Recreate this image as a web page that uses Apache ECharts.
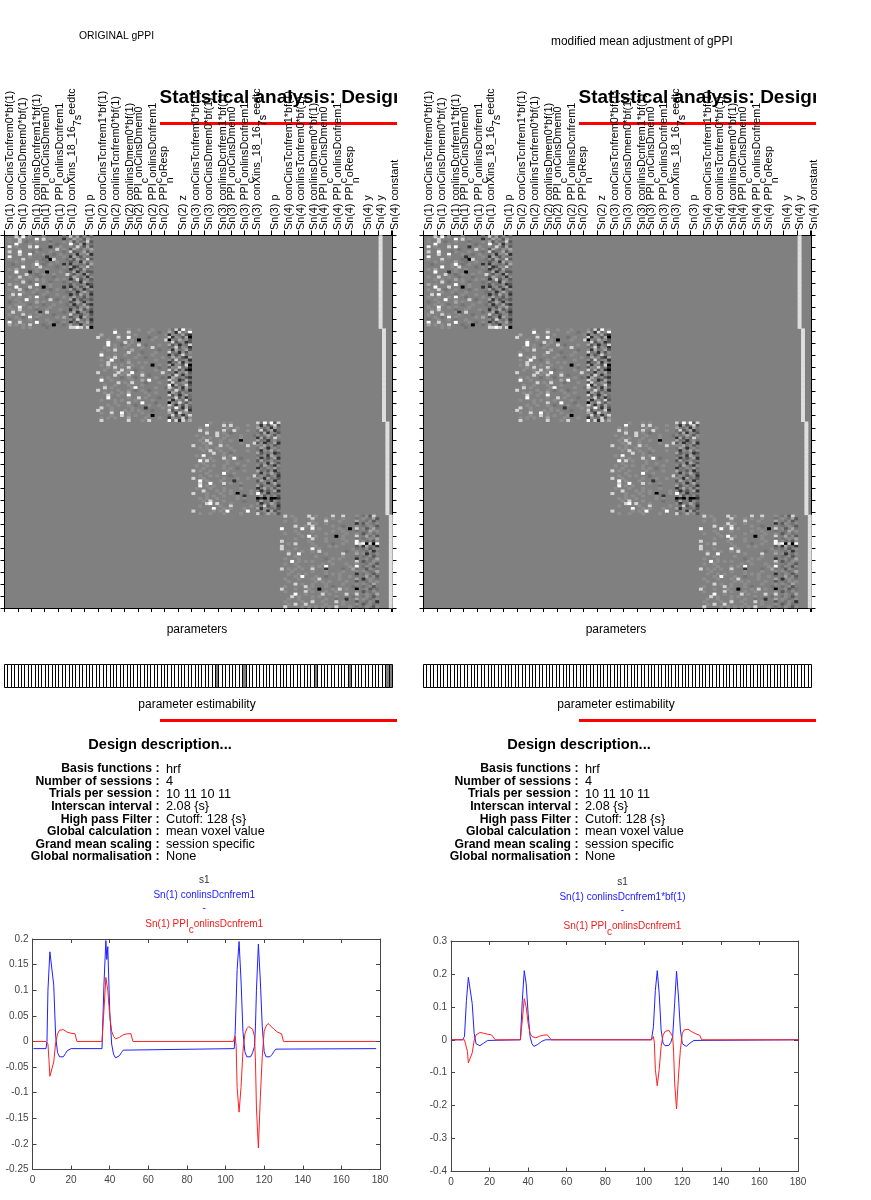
<!DOCTYPE html>
<html><head><meta charset="utf-8">
<style>html,body{margin:0;padding:0;background:#fff}#c{width:871px;height:1200px}</style>
<script src="https://cdn.jsdelivr.net/npm/echarts@6/dist/echarts.min.js"></script>
</head><body><div id="c"></div>
<script>
// Column labels above the design matrix ( _{x} marks a subscript ) and their x position in the matrix (px from matrix left edge)
const colLabels = ["Sn(1) conCinsTcnfrem0*bf(1)","Sn(1) conCinsDmem0*bf(1)","Sn(1) conlinsDcnfrem1*bf(1)","Sn(1) PPI_{c}onCinsDmem0","Sn(1) PPI_{c}onlinsDcnfrem1","Sn(1) conXins_18_16_{7s}eedtc","Sn(1) p","Sn(2) conCinsTcnfrem1*bf(1)","Sn(2) conlinsTcnfrem0*bf(1)","Sn(2) conlinsDmem0*bf(1)","Sn(2) PPI_{c}onCinsDmem0","Sn(2) PPI_{c}onlinsDcnfrem1","Sn(2) PPI_{n}oResp","Sn(2) z","Sn(3) conCinsTcnfrem0*bf(1)","Sn(3) conCinsDmem0*bf(1)","Sn(3) conlinsDcnfrem1*bf(1)","Sn(3) PPI_{c}onCinsDmem0","Sn(3) PPI_{c}onlinsDcnfrem1","Sn(3) conXins_18_16_{7s}eedtc","Sn(3) p","Sn(4) conCinsTcnfrem1*bf(1)","Sn(4) conlinsTcnfrem0*bf(1)","Sn(4) conlinsDmem0*bf(1)","Sn(4) PPI_{c}onCinsDmem0","Sn(4) PPI_{c}onlinsDcnfrem1","Sn(4) PPI_{n}oResp","Sn(4) y","Sn(4) y","Sn(4) constant"];
const colLabelX = [4.5,18,32,41,54.5,66.5,84.5,98,111,124.5,134,148,159,177.5,190.5,203.5,217.5,226.5,239.5,252,270,283.5,296,309,318.5,332.5,345,362.5,376,389.5];

// Design matrix, one string per row; '.' = 0, 1..4 lighter, a..d darker
const s1Rows = [
"...3.4.1...1.....a. 3a2b1.a",".1..3....4.3.1...c. a2.1b2.",".1..3.a..1...a...1. 2b1a.3b","...4...1.....1.a... 4.a2c1a",
".4.1...3.4...c..1.. 1a3.b2b",".1..1.....a....3.1. b2.a1.2",".3..4...a1...1...a. 3ba.2b1","....3..4...1..a.1.. a1c1.2c",
".4.....1....c....1. c2.b1a.",".1...3.....a.d3...a 1b2.a3b","...1.1...2..a..1... b.1c2a1","..a.....14.a.1...c. c1.a.b2",
".....4..1.3....a.1. 2cb1.3a",".1.2.....1..1...... c.1b2a.","...4...c.1..d...1.a a2c.1bb","......3..a.1..1...3 .b1.c2a",
".1..3..1..a...a.... b2.a1c1","...1.1...2.1...1.1. c.3b.1b",".....3.a...1.a...a. 1a.c2.a",".2.1.....4...1..... b1a.1cb",
"...4...3...d.1...c. c.1b.2c",".1..3.a..1...a.1... 2b.1ca1","..1..1..1...1.....a a1c.2.b","..3.4....a.1...1... c.b2a1c",
".1..1..1.4..a....1. .2a.b1a","...1..4..1...3.a... 2c1b.ab",".a..1....2.1....1.. b.2.c1.","...1.1.a...a..1...a 1c.a2bc",
".1..4..1.1...1..... a.b1.2a","..1.3....a..1...1.. c1.2b.b","..3..1...1c.3....a. .2c.1ac",".1...3.1..1...a.... 3a.b.1b",
"...1.a.4.1.....1.2. b.1c2.a",".a..1..1.a..1...... 1b3.a1c",".4..3....4...1.a.1. c.b1.2b",".2.1.1.3...a..d..a. 2a.c1.a",
".....1.1....a...... 3343.3d"];
const s2Rows = [
".....1...1..1...1.... 1a3b4.1",".....4...3.....1..a.. 2.c3a14",".2....1..1.1........1 c1.a2bc","3.....3..4.....a.1... 3c1.b2d",
"...1..1...1.d...1...3 d1a2.1b","...4....3.1.......... a3b.1cb","...4.1.a.1..3.a...1.. 2b1c.a3","..1..1..1....1..3.... a.3b1.c",
"...1.3....2.......a.. 1c2a.2b",".1.......3...a...1... 3a.c1b1",".4...1..1...1...1.... c1b.3a.","...1.3.....1..a....1. a2.1bc2",
".1..4..a.1.......1... 1b3a.1c","...3.....2..1.1...... c.a2c1.",".1.3.1.1..1.....d.1.. 2c1.b3d","...1.3...3...1....a.. b1.3a.c",
"..1..1.3.1.a.....1... 3a2b1cd","3.....3.1.4..1.....3. a.c1.2b",".....3.1.3...3.a..... 1b3.c1a",".1.1...a.1.a.....1.a. c2.a1bc",
".4..1.....1..2.4..... 3.1cb2a","......3.1.3...a...1.. b3a.1.c","..1..1...1...1....... 4c2a.3b","..3.1.....14.....1..a 3.b1c2a",
"3.....1..1.a.1.a..... 1a3.b1c","..1.1..1.2....1..1... c2.b1a.","...3..1..4.....1..... 3b1c.2a","...4.....1..3.1...a.. a.3b1ca",
".1...1.1...1....1.... 2c.1a3b",".....1...3...4...a... d1a3.b1","...1..1..1.a...1..1.. 3.c1b2a",".3..1.....1...c....1. 1a4.c2b",
"3...1...1.1.1...a.... 3b1a.3c",".1..3..4.1...1....... 2.c3.1a","....1..3.1.1...1d.... a3b1c.3",".1.1.1...2....1...1.. c1.a3b1",
".3.......3...1.3..... 4a3c3.2"];
const s3Rows = [
".....1...1.1....... 3a4.4b3","....4....3.3....1.. 1c2b.3b","..1.1.....1..1..... 2.a1c2a","..3.1....3..3...1.. a3b.2ca",
"....3..3.1.a....... .b2c1.b",".1.....3..1...1...a 1a.2.b1","...1.1...1....1.... c2b1a3.","..1.3...1..1..d.... 2a.c.1a",
"...1.3..1.....1...3 b1c.a2c","3...1...3.1.....3.. 1.2a1b.","..1.1..1...1....... a2.c.1a","...1.3..1...1...1.. .c1.2a1",
"......3..1.a....... 2b.a1cb",".1.4.....1.1....... a.1c2.a","...1.1...3..4.a.... 1c.b.2c","..4.3.1...1.....1.. b2a.1a.",
"...1......1..1..... .a1c2.b",".1..1.1..1.....1... 1b2.ac1","...1.....1.1.a..... c.a1.2a","3.1..1....1....1... 2a.b1c.",
"....1....4..1...... .c1a2.b","..1..1.1...a......3 a1.b.1c","3..1.....1...1..1.. 1.c2a.b","..4.1...1...c...... b2.a1c.",
"..3..4...3.1..1.... .a1c.2a","..4.1.1.......a.... 2b.1a.c",".1...1...1....1.... c.2a1b1","...3...1.1.1.....1. 1c.b.2c",
"3...1...1..1.d...1. 4.1c.a.","....1.1..1...1.c... .2b1a1b","..1.1..1.....1.1... dcd.ddc","...1.3...1.....a... b2a.c1a",
"....34.3...1....... 1c.a2.b","..1.....1..3.....1. .a3b.1c","......4..1.1...1... 2c1.a.b","3.....1.1.4.....4.. a.1c2b.",
"..1..1...1....1.... 3a.2.1b"];
const s4Rows = [
".3.1....3.1....3..3...1. a1b3.","....1....3...1.1..1...a. 1.a2b",".1..1....1...3...1....2. .a1b.","........3.1..1........c. b1.a1",
"....3..1.3.....1..a...1. a.1.b","4.....4..4.1.....1..d.3. 1b.2a","....1....1.....1..1...a. .a2.1",".1...1.......1.....1..1. b.1a.",
"......1.4.1.....d.1...3. .2a1b","....1....3...1....1...a. a.1.2","3.......1....1.....1..4. 1a.b1","..1.3....1.....a..1...43 4d3d4",
"3.........1...1.1.....b. c2a.c","3...1....4.1.........1a. a1b.1","..1...1..1.3.......a..1. .a1c.","..3..4.......1....3...2. 1c.a1",
"....1.....1.......1...a. a.1b.",".1...1.......a.1.1....c. .1a.2","...4.1.1.1....1.......3. b.a1.",".1..1.......1..1...1..1. .a1.b",
".....1...1.1.4......1.4. a1.b1","3.1.1.1..3...c....a..2a. .b1.a","...1.....1...1....1...1. 1.a.2","..1..1.1.....1.1.1....c. a1.b.",
"....1.4...1..a...1..1.a. .2a1b",".1...1...1.3.....1....2. c.1.a","..1.......1.1.1....1..b. .a1.1","....3.1..1...1....1...1. 1.a2.",
".1.....3.1...1.a.....a.. a.1b.","3...1...1..d...1.3.1..d. .1b.a",".1.....3.1...1..1.....1. b.a1.","....4..1....3.1....3..3. .1.a2",
"...3.1...1.1....1....a.. a1.b.","..1..1...1...1..a..c..2. 1.a.1",".1....1..3..1...3.1...b. .a1.c","..1.3..3.....1....1...1. b.1a.",
".3....1.1.1.1.1.3...1.a. a1.b1"];
const sessionStartCol = [0,27,55,81];
const constantCols = [110,111,112,113];
const constantLevel = 0.75;
const totalCols = 114, rowsPerSession = 37;

// Parameter estimability: indices of non-estimable (grey) columns per panel
const greyColsOriginal = [62,70,91,101,112,113];
const greyColsModified = [];

// Left plot
const lBlueX = [0.5,7,7.5,8,9,10,11,12,13,14,15,16,17,18,19,20,36,37,38,38.5,39,40,41,42,43,44,45,46,47,48,104.5,105,106,107,108,109,110,111,112,113,114,115,115.5,116,117,118,119,120,121,122,123,124,125,126,127,178];
const lBlueY = [-0.014,-0.014,0,0.1,0.175,0.175,0.11,0.01,-0.022,-0.03,-0.032,-0.03,-0.024,-0.018,-0.015,-0.014,-0.014,0.11,0.197,0.16,0.185,0.06,-0.005,-0.025,-0.032,-0.032,-0.028,-0.022,-0.017,-0.014,-0.014,0.02,0.14,0.195,0.12,0.02,-0.02,-0.03,-0.033,-0.03,-0.022,-0.01,0.03,0.1,0.19,0.12,0.03,-0.02,-0.03,-0.033,-0.03,-0.026,-0.02,-0.015,-0.014,-0.014];
const lRedX = [0.5,7,8,8.5,9,10,11,12,13,14,15,16,17,18,19,20,21,22,23,36,37,38,39,40,41,42,43,44,45,46,47,48,49,50,51,52,104,105,105.5,106,107,108,109,110,111,112,113,114,115,115.5,116,117,118,119,120,121,122,123,124,125,126,127,128,129,130,178];
const lRedY = [0,0,-0.005,-0.035,-0.068,-0.068,-0.04,-0.002,0.015,0.022,0.024,0.023,0.02,0.018,0.017,0.016,0.016,0.015,0,0,0.06,0.125,0.1,0.05,0.02,0.01,0.005,0.005,0.008,0.011,0.013,0.014,0.015,0.015,0.015,0,0,0.01,-0.01,-0.09,-0.138,-0.09,-0.02,0.015,0.025,0.029,0.028,0.024,0.01,-0.04,-0.13,-0.208,-0.11,-0.03,0.02,0.03,0.035,0.032,0.028,0.024,0.021,0.018,0.016,0.015,0,0];
// Right plot
const rBlueX = [0,6,7,8,9,10,11,12,13,14,15,16,17,18,19,20,36,37,38,39,40,41,42,43,44,45,46,47,48,49,104,105,106,107,108,109,110,111,112,113,114,115,116,117,118,119,120,121,122,123,124,125,126,127,180];
const rBlueY = [0,0,0.01,0.12,0.19,0.19,0.11,0.02,-0.012,-0.018,-0.018,-0.015,-0.01,-0.005,-0.002,0,0,0.12,0.21,0.17,0.08,0.01,-0.012,-0.02,-0.018,-0.014,-0.01,-0.005,-0.002,0,0,0.04,0.15,0.21,0.14,0.03,-0.01,-0.018,-0.02,-0.017,-0.008,0.01,0.11,0.208,0.13,0.03,-0.012,-0.018,-0.02,-0.015,-0.01,-0.005,-0.002,0,0];
const rRedX = [0,7,8,8.5,9,10,11,12,13,14,15,16,17,18,19,20,21,22,23,36,37,38,39,40,41,42,43,44,45,46,47,48,49,50,51,52,104,105,105.5,106,107,108,109,110,111,112,113,114,115,115.5,116,117,118,119,120,121,122,123,124,125,126,127,128,129,130,180];
const rRedY = [0,0,-0.006,-0.035,-0.07,-0.07,-0.04,-0.002,0.015,0.021,0.022,0.022,0.02,0.018,0.017,0.016,0.015,0.014,0,0,0.06,0.125,0.1,0.05,0.02,0.01,0.005,0.006,0.008,0.011,0.013,0.014,0.015,0.015,0.015,0,0,0.01,-0.01,-0.09,-0.14,-0.09,-0.02,0.014,0.025,0.03,0.029,0.024,0.01,-0.04,-0.13,-0.21,-0.11,-0.03,0.02,0.03,0.034,0.032,0.028,0.024,0.021,0.018,0.016,0.014,0,0];

const descKeys = ["Basis functions :","Number of sessions :","Trials per session :","Interscan interval :","High pass Filter :","Global calculation :","Grand mean scaling :","Global normalisation :"];
const descVals = ["hrf","4","10 11 10 11","2.08 {s}","Cutoff: 128 {s}","mean voxel value","session specific","None"];

const FONT = '"Liberation Sans", Arimo, Helvetica, sans-serif';
const LEVEL = {'.':0,'1':0.1,'2':0.3,'3':0.65,'4':1,'a':-0.1,'b':-0.3,'c':-0.6,'d':-1};

const matrixData = [];
[s1Rows,s2Rows,s3Rows,s4Rows].forEach((rows,s)=>{
  rows.forEach((str,r)=>{
    [...str.replace(/ /g,'')].forEach((ch,c)=>{
      const v = LEVEL[ch];
      if (v) matrixData.push([sessionStartCol[s]+c, s*rowsPerSession+r, v]);
    });
  });
  for (let r=0;r<rowsPerSession;r++) matrixData.push([constantCols[s], s*rowsPerSession+r, constantLevel]);
});
const colCats = Array.from({length:totalCols},(_,i)=>i);
const rowCats = Array.from({length:rowsPerSession*4},(_,i)=>i);

const grids=[],xAxes=[],yAxes=[],series=[],graphics=[];
function addGrid(g){grids.push(g);return grids.length-1;}
function txt(x,y,text,o){o=o||{};graphics.push({type:'text',x,y:y+1,z:o.z||10,style:{text,fontFamily:FONT,fontSize:o.size||10,fontWeight:o.bold?'bold':'normal',fill:o.fill||'#000',align:o.align||'left',verticalAlign:'middle'}});}
function richMarkup(s){
  return s.split(/(_\{[^}]*\})/).filter(Boolean).map(p=>{
    const m=p.match(/^_\{(.*)\}$/);
    return m?`{s|${m[1]}}`:`{n|${p}}`;
  }).join('');
}
function richStyle(fill,size){
  return {n:{fontFamily:FONT,fontSize:size,fill,lineHeight:12,verticalAlign:'top',height:12},
          s:{fontFamily:FONT,fontSize:size,fill,lineHeight:18,verticalAlign:'bottom',height:12}};
}

const hiddenCat = (data,inv)=>({type:'category',data,show:false,inverse:!!inv});

function estimabilityCell(params,api){
  const c=api.coord([api.value(0),0]);
  const s=api.size([1,1]);
  const x0=Math.round(c[0]-s[0]/2)+0.5, x1=Math.round(c[0]+s[0]/2)+0.5;
  const y0=Math.round(c[1]-s[1]/2)+0.5, y1=Math.round(c[1]+s[1]/2)+0.5;
  return {type:'rect',shape:{x:x0,y:y0,width:x1-x0,height:y1-y0},
    style:{fill:api.value(2)?'#ffffff':'#808080',stroke:'#000',lineWidth:1}};
}

function panel(ox,title,titleX,titleY,titleSize,greyCols,plot){
  const MX=ox+4.5,MY=235.5,MW=388,MH=372.5;
  txt(titleX,titleY-1,title,{size:titleSize,z:5});
  txt(ox+159.5,97,'Statistical analysis: Design',{size:19,bold:true,z:3});
  graphics.push({type:'rect',z:4,shape:{x:ox+397,y:85,width:23,height:30},style:{fill:'#fff'}});
  graphics.push({type:'rect',z:5,shape:{x:ox+160,y:122,width:237,height:3},style:{fill:'#f00'}});
  graphics.push({type:'rect',z:5,shape:{x:ox+160,y:719,width:237,height:3},style:{fill:'#f00'}});
  colLabels.forEach((l,i)=>{
    graphics.push({type:'text',x:MX+colLabelX[i]-5,y:230,rotation:Math.PI/2,z:6,
      style:{text:richMarkup(l),rich:richStyle('#000',10.8),align:'left',verticalAlign:'top'}});
  });
  txt(ox+197,629,'parameters',{size:12,align:'center'});
  txt(ox+197,704,'parameter estimability',{size:12,align:'center'});
  txt(ox+160,744,'Design description...',{size:14.6,bold:true,align:'center'});
  descKeys.forEach((k,i)=>{
    const y=768+i*12.55;
    txt(ox+159.5,y,k,{size:12.2,bold:true,align:'right'});
    txt(ox+166,y,descVals[i],{size:12.7});
  });

  let g=addGrid({left:MX,top:MY,width:MW,height:MH,show:true,backgroundColor:'#808080',borderWidth:0});
  xAxes.push(Object.assign(hiddenCat(colCats),{gridIndex:g}));
  yAxes.push(Object.assign(hiddenCat(rowCats,true),{gridIndex:g}));
  series.push({type:'heatmap',xAxisIndex:xAxes.length-1,yAxisIndex:yAxes.length-1,data:matrixData,progressive:0,animation:false,itemStyle:{borderWidth:0}});
  const designIdx=series.length-1;

  g=addGrid({left:MX,top:MY,width:MW,height:MH});
  const tickAxis=(pos,max,len)=>({type:'value',gridIndex:g,position:pos,min:0,max,interval:1,splitLine:{show:false},axisLabel:{show:false},
    axisLine:{show:true,onZero:false,lineStyle:{color:'#000',width:1}},axisTick:{show:true,length:len,lineStyle:{color:'#000',width:1}}});
  xAxes.push(tickAxis('top',29.1,5)); xAxes.push(tickAxis('bottom',29.1,4));
  yAxes.push(Object.assign(tickAxis('left',31,4),{inverse:true})); yAxes.push(Object.assign(tickAxis('right',31,4),{inverse:true}));

  g=addGrid({left:ox+4,top:664,width:MW,height:23,backgroundColor:'#fff'});
  xAxes.push(Object.assign(hiddenCat(colCats),{gridIndex:g}));
  yAxes.push(Object.assign(hiddenCat(['e']),{gridIndex:g}));
  series.push({type:'custom',xAxisIndex:xAxes.length-1,yAxisIndex:yAxes.length-1,animation:false,silent:true,
    renderItem:estimabilityCell,encode:{x:0,y:1},data:colCats.map(c=>[c,0,greyCols.includes(c)?0:1])});

  const P=plot;
  g=addGrid({left:P.left,top:P.top,width:P.width,height:P.height});
  const AX='#444';
  const vAxis=(pos,min,max,interval,labels,margin)=>({type:'value',gridIndex:g,position:pos,min,max,interval,splitLine:{show:false},
    axisLine:{show:true,onZero:false,lineStyle:{color:AX,width:1}},axisTick:{show:true,inside:true,length:4,lineStyle:{color:AX,width:1}},
    axisLabel:{show:labels,color:AX,fontFamily:FONT,fontSize:10,margin,hideOverlap:false,showMinLabel:true,showMaxLabel:true}});
  const xi=xAxes.length,yi=yAxes.length;
  xAxes.push(vAxis('bottom',0,180,20,true,6)); xAxes.push(vAxis('top',0,180,20,false,4));
  yAxes.push(vAxis('left',P.ymin,P.ymax,P.step,true,4)); yAxes.push(vAxis('right',P.ymin,P.ymax,P.step,false,4));
  const line=(xs,ys,color)=>({type:'line',xAxisIndex:xi,yAxisIndex:yi,symbol:'none',animation:false,data:xs.map((x,i)=>[x,ys[i]]),lineStyle:{color,width:1},silent:true});
  series.push(line(P.bx,P.by,'#2020ff'));
  series.push(line(P.rx,P.ry,'#ff2020'));
  const cx=P.left+P.width/2-2;
  txt(cx,P.top-60,'s1',{size:10,fill:'#333',align:'center'});
  txt(cx,P.top-45,P.blueName,{size:10,fill:'#1a1aff',align:'center'});
  txt(cx,P.top-32,'-',{size:10,fill:'#1a1aff',align:'center'});
  graphics.push({type:'text',x:cx,y:P.top-12,z:6,style:{text:richMarkup('Sn(1) PPI_{c}onlinsDcnfrem1'),rich:richStyle('#f01a1a',10),align:'center',verticalAlign:'middle'}});
  return designIdx;
}

const a=panel(0,'ORIGINAL gPPI',79,36,10.4,greyColsOriginal,{left:32.5,top:939,width:347.5,height:230.5,ymin:-0.25,ymax:0.2,step:0.05,bx:lBlueX,by:lBlueY,rx:lRedX,ry:lRedY,blueName:'Sn(1) conlinsDcnfrem1'});
const b=panel(419,'modified mean adjustment of gPPI',551,42,11.9,greyColsModified,{left:451,top:941,width:347,height:230.5,ymin:-0.4,ymax:0.3,step:0.1,bx:rBlueX,by:rBlueY,rx:rRedX,ry:rRedY,blueName:'Sn(1) conlinsDcnfrem1*bf(1)'});

const chart=echarts.init(document.getElementById('c'),null,{renderer:'canvas',width:871,height:1200});
chart.setOption({
  animation:false,backgroundColor:'#fff',
  grid:grids,xAxis:xAxes,yAxis:yAxes,series,
  visualMap:[
    {type:'continuous',show:false,min:-1,max:1,seriesIndex:[a,b],inRange:{color:['#000000','#808080','#ffffff']}}
  ],
  graphic:{elements:graphics}
});
</script></body></html>
